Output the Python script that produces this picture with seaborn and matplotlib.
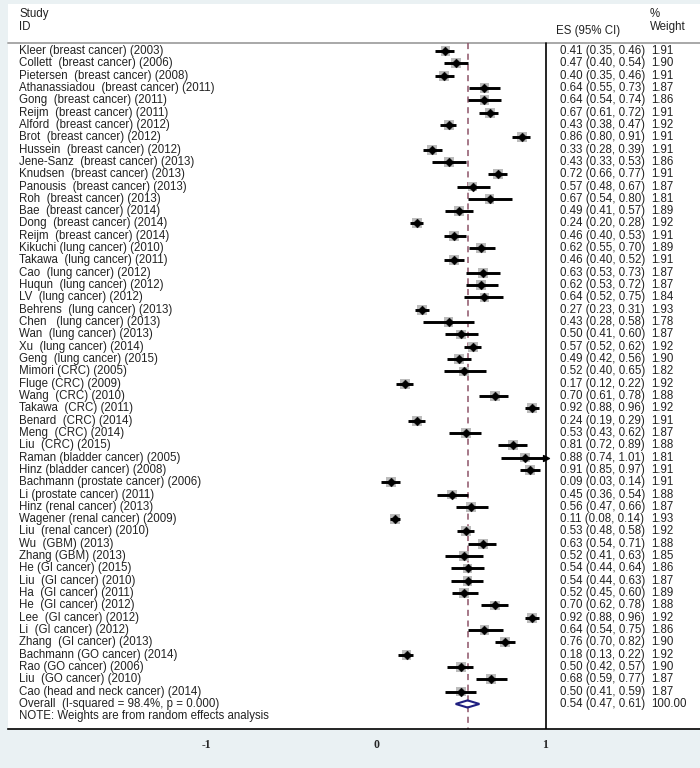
import numpy as np
import pandas as pd
import matplotlib.pyplot as plt
import seaborn as sns

studies = [
    "Kleer (breast cancer) (2003)", "Collett  (breast cancer) (2006)",
    "Pietersen  (breast cancer) (2008)", "Athanassiadou  (breast cancer) (2011)",
    "Gong  (breast cancer) (2011)", "Reijm  (breast cancer) (2011)",
    "Alford  (breast cancer) (2012)", "Brot  (breast cancer) (2012)",
    "Hussein  (breast cancer) (2012)", "Jene-Sanz  (breast cancer) (2013)",
    "Knudsen  (breast cancer) (2013)", "Panousis  (breast cancer) (2013)",
    "Roh  (breast cancer) (2013)", "Bae  (breast cancer) (2014)",
    "Dong  (breast cancer) (2014)", "Reijm  (breast cancer) (2014)",
    "Kikuchi (lung cancer) (2010)", "Takawa  (lung cancer) (2011)",
    "Cao  (lung cancer) (2012)", "Huqun  (lung cancer) (2012)",
    "LV  (lung cancer) (2012)", "Behrens  (lung cancer) (2013)",
    "Chen   (lung cancer) (2013)", "Wan  (lung cancer) (2013)",
    "Xu  (lung cancer) (2014)", "Geng  (lung cancer) (2015)",
    "Mimori (CRC) (2005)", "Fluge (CRC) (2009)", "Wang  (CRC) (2010)",
    "Takawa  (CRC) (2011)", "Benard  (CRC) (2014)", "Meng  (CRC) (2014)",
    "Liu  (CRC) (2015)", "Raman (bladder cancer) (2005)",
    "Hinz (bladder cancer) (2008)", "Bachmann (prostate cancer) (2006)",
    "Li (prostate cancer) (2011)", "Hinz (renal cancer) (2013)",
    "Wagener (renal cancer) (2009)", "Liu  (renal cancer) (2010)",
    "Wu  (GBM) (2013)", "Zhang (GBM) (2013)", "He (GI cancer) (2015)",
    "Liu  (GI cancer) (2010)", "Ha  (GI cancer) (2011)", "He  (GI cancer) (2012)",
    "Lee  (GI cancer) (2012)", "Li  (GI cancer) (2012)", "Zhang  (GI cancer) (2013)",
    "Bachmann (GO cancer) (2014)", "Rao (GO cancer) (2006)",
    "Liu  (GO cancer) (2010)", "Cao (head and neck cancer) (2014)",
]
es = [0.41, 0.47, 0.40, 0.64, 0.64, 0.67, 0.43, 0.86, 0.33, 0.43, 0.72, 0.57,
      0.67, 0.49, 0.24, 0.46, 0.62, 0.46, 0.63, 0.62, 0.64, 0.27, 0.43, 0.50,
      0.57, 0.49, 0.52, 0.17, 0.70, 0.92, 0.24, 0.53, 0.81, 0.88, 0.91, 0.09,
      0.45, 0.56, 0.11, 0.53, 0.63, 0.52, 0.54, 0.54, 0.52, 0.70, 0.92, 0.64,
      0.76, 0.18, 0.50, 0.68, 0.50]
lo = [0.35, 0.40, 0.35, 0.55, 0.54, 0.61, 0.38, 0.80, 0.28, 0.33, 0.66, 0.48,
      0.54, 0.41, 0.20, 0.40, 0.55, 0.40, 0.53, 0.53, 0.52, 0.23, 0.28, 0.41,
      0.52, 0.42, 0.40, 0.12, 0.61, 0.88, 0.19, 0.43, 0.72, 0.74, 0.85, 0.03,
      0.36, 0.47, 0.08, 0.48, 0.54, 0.41, 0.44, 0.44, 0.45, 0.62, 0.88, 0.54,
      0.70, 0.13, 0.42, 0.59, 0.41]
hi = [0.46, 0.54, 0.46, 0.73, 0.74, 0.72, 0.47, 0.91, 0.39, 0.53, 0.77, 0.67,
      0.80, 0.57, 0.28, 0.53, 0.70, 0.52, 0.73, 0.72, 0.75, 0.31, 0.58, 0.60,
      0.62, 0.56, 0.65, 0.22, 0.78, 0.96, 0.29, 0.62, 0.89, 1.01, 0.97, 0.14,
      0.54, 0.66, 0.14, 0.58, 0.71, 0.63, 0.64, 0.63, 0.60, 0.78, 0.96, 0.75,
      0.82, 0.22, 0.57, 0.77, 0.59]
weight = [1.91, 1.90, 1.91, 1.87, 1.86, 1.91, 1.92, 1.91, 1.91, 1.86, 1.91, 1.87,
          1.81, 1.89, 1.92, 1.91, 1.89, 1.91, 1.87, 1.87, 1.84, 1.93, 1.78, 1.87,
          1.92, 1.90, 1.82, 1.92, 1.88, 1.92, 1.91, 1.87, 1.88, 1.81, 1.91, 1.91,
          1.88, 1.87, 1.93, 1.92, 1.88, 1.85, 1.86, 1.87, 1.89, 1.88, 1.92, 1.86,
          1.90, 1.92, 1.90, 1.87, 1.87]
overall_label = "Overall  (I-squared = 98.4%, p = 0.000)"
overall_es, overall_lo, overall_hi, overall_w = 0.54, 0.47, 0.61, 100.00
xticks = [-1, 0, 1]

df = pd.DataFrame({"study": studies, "es": es, "lo": lo, "hi": hi, "weight": weight})
df["row"] = np.arange(len(df))
n = len(df)

sns.set_style("white")
plt.rcParams["font.family"] = ["Liberation Sans", "DejaVu Sans"]
txt = "#222222"
fs = 8.3

fig = plt.figure(figsize=(7, 7.68), dpi=100, facecolor="#eaf1f3")
ax = fig.add_axes([8 / 700, 39 / 768, 692 / 700, 725 / 768])
ax.set_facecolor("white")

# pixel mapping of the original: 0 at 376px, 1 at 545.5px; rows 12.32px apart from 51px
x0, xs = 376, 169.5
y0, ys = 51, 12.32
ax.set_xlim((8 - x0) / xs, (700 - x0) / xs)
ax.set_ylim((729 - y0) / ys, (4 - y0) / ys)

def xp(px):
    return (px - x0) / xs

def yp(px):
    return (px - y0) / ys

top = yp(43)
ax.plot([ax.get_xlim()[0], ax.get_xlim()[1]], [top, top], color="#a8a8a8", lw=1.4, clip_on=False)
ax.plot([1, 1], [top, ax.get_ylim()[0]], color="black", lw=1.2)
ax.plot([overall_es, overall_es], [top, ax.get_ylim()[0]], color="#8e5468", lw=1.1,
        dashes=(4, 3))

sns.scatterplot(data=df, x="es", y="row", marker="s", size="weight", sizes=(44, 52),
                color="#bcbcbc", edgecolor="none", legend=False, ax=ax, zorder=2)
cap = df["hi"].clip(upper=max(xticks))
ax.hlines(df["row"], df["lo"], cap, color="black", lw=2.1, zorder=3)
over = df[df["hi"] > max(xticks)]
ax.scatter(cap[over.index], over["row"], marker=">", s=18, color="black", zorder=4)
sns.scatterplot(data=df, x="es", y="row", marker="D", s=20, color="black",
                edgecolor="black", legend=False, ax=ax, zorder=4)

dh = 0.29
ax.fill([overall_lo, overall_es, overall_hi, overall_es],
        [n, n - dh, n, n + dh], facecolor="none", edgecolor="#1f1f80", lw=1.5, zorder=4)

for _, r in df.iterrows():
    ax.text(xp(19), r["row"], r["study"], fontsize=fs, color=txt, va="center")
    ax.text(xp(560), r["row"], f"{r['es']:.2f} ({r['lo']:.2f}, {r['hi']:.2f})",
            fontsize=fs, color=txt, va="center")
    ax.text(xp(651), r["row"], f"{r['weight']:.2f}", fontsize=fs, color=txt, va="center")
ax.text(xp(19), n, overall_label, fontsize=fs, color=txt, va="center")
ax.text(xp(560), n, f"{overall_es:.2f} ({overall_lo:.2f}, {overall_hi:.2f})",
        fontsize=fs, color=txt, va="center")
ax.text(xp(651), n, f"{overall_w:.2f}", fontsize=fs, color=txt, va="center")
ax.text(xp(19), yp(716), "NOTE: Weights are from random effects analysis",
        fontsize=fs, color=txt, va="center")

ax.text(xp(19), yp(14), "Study", fontsize=fs, color=txt, va="center")
ax.text(xp(19), yp(27), "ID", fontsize=fs, color=txt, va="center")
ax.text(xp(556), yp(31), "ES (95% CI)", fontsize=fs, color=txt, va="center")
ax.text(xp(650), yp(14), "%", fontsize=fs, color=txt, va="center")
ax.text(xp(650), yp(27), "Weight", fontsize=fs, color=txt, va="center")

ax.set_xlabel("")
ax.set_ylabel("")
ax.set_yticks([])
ax.set_xticks(xticks)
ax.set_xticklabels([str(t) for t in xticks], fontfamily="Liberation Serif",
                   fontweight="bold", fontsize=8.5)
ax.tick_params(axis="x", direction="out", length=5, width=1, color="black", pad=2)
for s in ["top", "left", "right"]:
    ax.spines[s].set_visible(False)
ax.spines["bottom"].set_color("black")
ax.spines["bottom"].set_linewidth(1.2)

fig.savefig("out.png", dpi=100, facecolor=fig.get_facecolor())
